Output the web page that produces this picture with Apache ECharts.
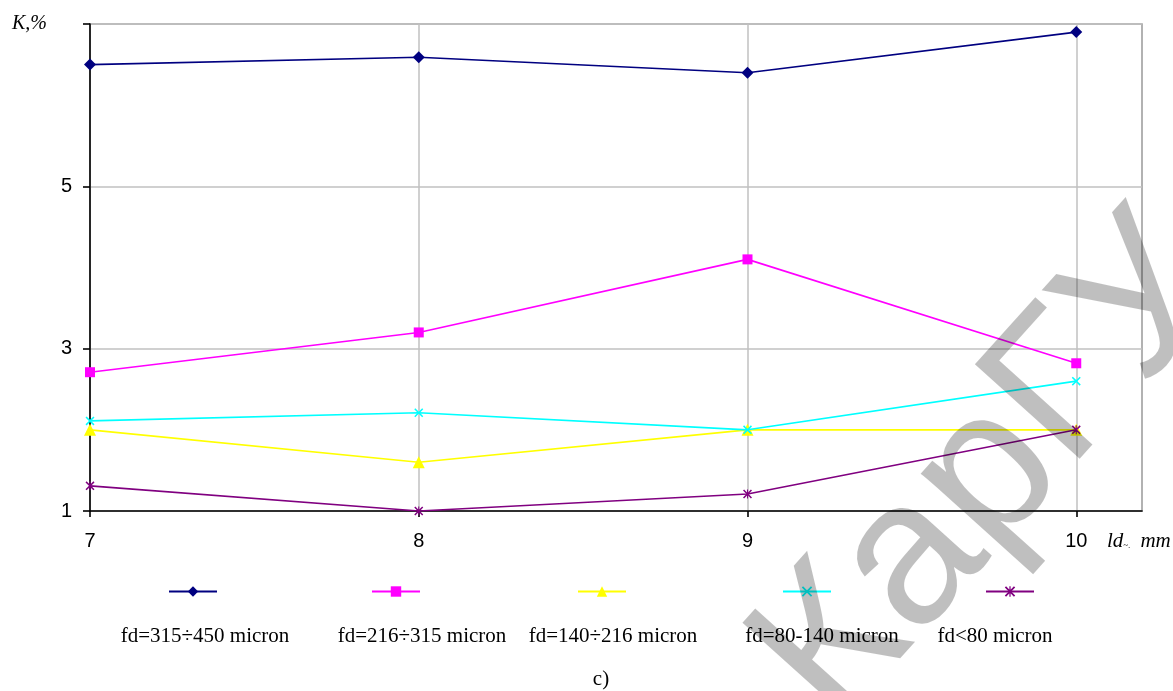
<!DOCTYPE html>
<html>
<head>
<meta charset="utf-8">
<script src="https://cdn.jsdelivr.net/npm/echarts@6/dist/echarts.min.js"></script>
<style>
  html, body { margin: 0; padding: 0; background: #ffffff; }
  #chart { width: 1173px; height: 691px; }
</style>
</head>
<body>
<div id="chart"></div>
<script>
// Fibre length (mm) on the x axis
const lengths = [7, 8, 9, 10];
const xTicks = [7, 8, 9, 10];
const yTicks = [1, 3, 5, 7];

// Series names (fibre diameter fractions)
const seriesNames = [
  'fd=315÷450 micron',
  'fd=216÷315 micron',
  'fd=140÷216 micron',
  'fd=80-140 micron',
  'fd<80 micron'
];

// K, % for each fraction
const k315_450 = [6.50, 6.59, 6.40, 6.90];
const k216_315 = [2.71, 3.20, 4.10, 2.82];
const k140_216 = [2.00, 1.60, 2.00, 2.00];
const k80_140  = [2.11, 2.21, 2.00, 2.60];
const k_lt80   = [1.31, 1.00, 1.21, 2.00];

const seriesValues = [k315_450, k216_315, k140_216, k80_140, k_lt80];

const colors = ['#000080', '#ff00ff', '#ffff00', '#00ffff', '#800080'];

// Marker shapes
const xMark = 'path://M0,1.2 L1.2,0 L5,3.8 L8.8,0 L10,1.2 L6.2,5 L10,8.8 L8.8,10 L5,6.2 L1.2,10 L0,8.8 L3.8,5 Z';
const starMark = 'path://M0,1.2 L1.2,0 L5,3.8 L8.8,0 L10,1.2 L6.2,5 L10,8.8 L8.8,10 L5,6.2 L1.2,10 L0,8.8 L3.8,5 Z M4.4,0 L5.6,0 L5.6,10 L4.4,10 Z';
const symbols = ['diamond', 'rect', 'triangle', xMark, starMark];
const symbolSizes = [12, 10, 12, 9, 9];

const serif = '"Liberation Serif", "Times New Roman", serif';
const sans = '"Liberation Sans", Arial, sans-serif';

// Legend icon centres and caption centres
const legendIconX = [192, 395, 601, 806, 1009];
const legendTextX = [205, 422, 613, 822, 995];

const chart = echarts.init(document.getElementById('chart'), null, { renderer: 'canvas' });

const series = seriesNames.map((name, i) => ({
  name: name,
  type: 'line',
  data: lengths.map((x, j) => [x, seriesValues[i][j]]),
  symbol: symbols[i],
  symbolSize: symbolSizes[i],
  showAllSymbol: true,
  color: colors[i],
  lineStyle: { color: colors[i], width: 1.6 },
  itemStyle: { color: colors[i] },
  emphasis: { disabled: true },
  animation: false,
  z: 3 + i
}));

const legends = seriesNames.map((name, i) => ({
  data: [name],
  left: legendIconX[i] - 24,
  top: 585,
  padding: 0,
  itemWidth: 48,
  itemHeight: 13,
  formatter: () => '',
  selectedMode: false
}));

const graphics = [
  {
    type: 'text', left: 12, top: 14,
    style: { text: 'К,%', font: 'italic 20px ' + serif, fill: '#000' }
  },
  {
    type: 'text', left: 1107, top: 531,
    style: {
      text: '{a|ld}{s|~.}{m|mm}',
      rich: {
        a: { font: 'italic 21px ' + serif, fill: '#000' },
        s: { font: 'italic 9px ' + serif, fill: '#000', padding: [8, 0, 0, 0] },
        m: { font: 'italic 21px ' + serif, fill: '#000', padding: [0, 0, 0, 10] }
      }
    }
  },
  ...seriesNames.map((name, i) => ({
    type: 'text', x: legendTextX[i], y: 636,
    style: { text: name, font: '21px ' + serif, fill: '#000', align: 'center', verticalAlign: 'middle' }
  })),
  {
    type: 'text', x: 601, y: 679,
    style: { text: 'c)', font: '21px ' + serif, fill: '#000', align: 'center', verticalAlign: 'middle' }
  },
  {
    type: 'text', x: 991, y: 473, rotation: 48 * Math.PI / 180, z: 100, silent: true,
    style: {
      text: 'КарГУ', font: '205px "Liberation Sans", Arial, sans-serif',
      fill: 'rgba(0,0,0,0.25)', align: 'center', verticalAlign: 'middle'
    }
  }
];

chart.setOption({
  animation: false,
  backgroundColor: '#ffffff',
  grid: {
    left: 90, top: 24, right: 31, bottom: 180,
    show: true, borderColor: '#999999', borderWidth: 1.5, backgroundColor: 'transparent'
  },
  xAxis: {
    type: 'value',
    min: 7, max: 10.2, interval: 1,
    axisLine: { onZero: false, lineStyle: { color: '#000', width: 1.6 } },
    axisTick: { show: true, inside: false, length: 6, lineStyle: { color: '#000', width: 1.6 }, customValues: xTicks },
    axisLabel: { customValues: xTicks, margin: 20, fontSize: 20, fontFamily: sans, color: '#000' },
    splitLine: { show: true, lineStyle: { color: '#c0c0c0', width: 1.5 } }
  },
  yAxis: {
    type: 'value',
    min: 1, max: 7, interval: 2,
    axisLine: { onZero: false, lineStyle: { color: '#000', width: 1.6 } },
    axisTick: { show: true, inside: false, length: 7, lineStyle: { color: '#000', width: 1.6 }, customValues: yTicks },
    axisLabel: { customValues: yTicks.slice(0, 3), margin: 18, fontSize: 20, fontFamily: sans, color: '#000' },
    splitLine: { show: true, lineStyle: { color: '#c0c0c0', width: 1.5 } }
  },
  legend: legends,
  tooltip: { show: false },
  series: series,
  graphic: graphics
});
</script>
</body>
</html>
